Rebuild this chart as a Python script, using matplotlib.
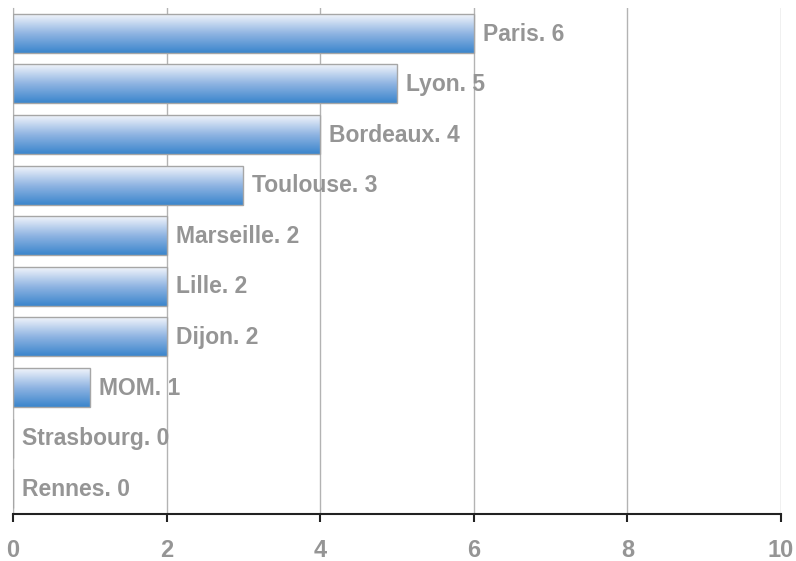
import matplotlib.pyplot as plt
import numpy as np
from matplotlib.colors import LinearSegmentedColormap

cities = ['Paris', 'Lyon', 'Bordeaux', 'Toulouse', 'Marseille', 'Lille',
          'Dijon', 'MOM', 'Strasbourg', 'Rennes']
counts = [6, 5, 4, 3, 2, 2, 2, 1, 0, 0]

plt.rcParams['font.family'] = ['Liberation Sans', 'DejaVu Sans']

fig = plt.figure(figsize=(7.96, 5.61), dpi=100)
ax = fig.add_axes([0.0163, 0.0838, 0.9648, 0.9019])

n = len(cities)
ypos = np.arange(n)[::-1]
height = 0.77

# gradient fill for each bar: light on top, blue at the bottom
cmap = LinearSegmentedColormap.from_list('grad', ['#3a85cc', '#8fb4e2', '#f2f5fb'])
grad = np.linspace(0, 1, 256).reshape(-1, 1)

bars = ax.barh(ypos, counts, height=height, color='none',
               edgecolor='#a6a6a6', linewidth=1.0, zorder=3)
for bar, y, v in zip(bars, ypos, counts):
    if v > 0:
        ax.imshow(grad, cmap=cmap, aspect='auto', origin='lower',
                  extent=(0, v, y - height / 2, y + height / 2),
                  zorder=2, interpolation='bicubic')

for city, y, v in zip(cities, ypos, counts):
    ax.annotate(f'{city}. {v}', xy=(v, y), xytext=(6.5, -0.5),
                textcoords='offset points', va='center', ha='left',
                fontsize=16.5, fontweight='bold', color='#959595', zorder=4)

ax.set_xlim(0, 10)
ax.set_ylim(-0.5, n - 0.5)
ax.set_xticks(range(0, 11, 2))
ax.set_yticks([])
ax.grid(axis='x', color='#b3b3b3', linewidth=1.0, zorder=0)
ax.set_axisbelow(True)

for side in ['top', 'right']:
    ax.spines[side].set_visible(False)
ax.spines['left'].set_color('#b3b3b3')
ax.spines['bottom'].set_color('#222222')
ax.spines['bottom'].set_linewidth(1.5)
ax.tick_params(axis='x', direction='out', length=6, width=1.5, color='#222222',
               pad=12, labelsize=17, labelcolor='#959595')
for lbl in ax.get_xticklabels():
    lbl.set_fontweight('bold')

fig.savefig('out.png', dpi=100)
